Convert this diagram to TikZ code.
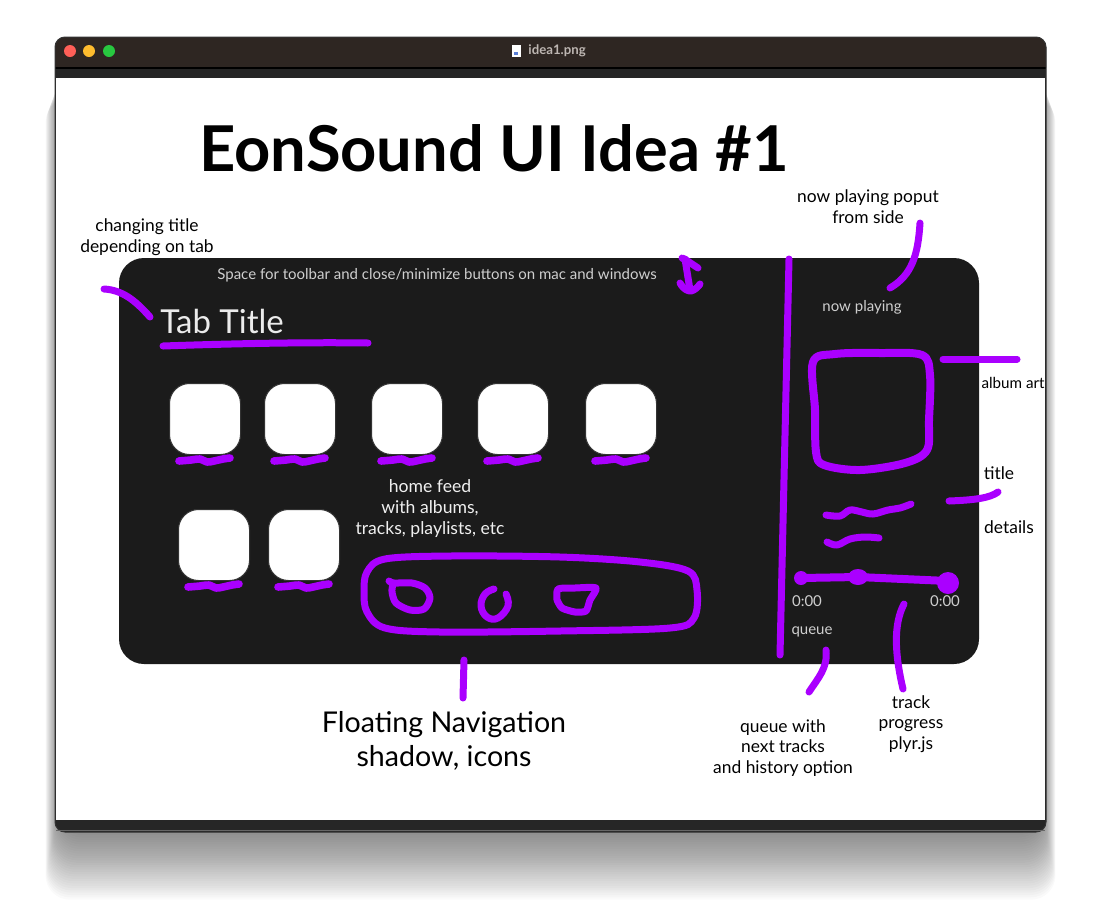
\documentclass[tikz,border=0pt]{standalone}
\usepackage{fontspec}
\setmainfont{Lato}
\usetikzlibrary{calc}
\definecolor{pur}{HTML}{AA00FF}
\definecolor{panelc}{HTML}{1B1B1B}
\definecolor{tbar}{HTML}{2E2622}
\definecolor{stripc}{HTML}{262626}
\definecolor{uigray}{HTML}{CFCFCF}
\definecolor{titlegray}{HTML}{BDB6B2}
\definecolor{tlred}{HTML}{FF5F57}
\definecolor{tlyellow}{HTML}{FEBC2E}
\definecolor{tlgreen}{HTML}{28C840}
\definecolor{fileblue}{HTML}{5B7FD6}
\begin{document}
\begin{tikzpicture}[x=0.5pt,y=-0.5pt,
  pen/.style={draw=pur, line width=3.5pt, line cap=round, line join=round},
  note/.style={font=\fontsize{8.7}{10.4}\selectfont, align=center, text=black, inner sep=0},
  ui/.style={font=\fontsize{7.5}{9}\selectfont, text=uigray, inner sep=0},
  tile/.style={draw=black!80, line width=0.5pt, fill=white, rounded corners=10pt,
    minimum width=35.5pt, minimum height=35.5pt, inner sep=0},
  squig/.pic={\draw[pen, line width=3.8pt] plot[smooth, tension=0.6] coordinates
    {(-26,1) (-14,0) (-5,-1) (2,2) (9,1) (18,-1) (25,-2)};}]
\useasboundingbox (0,0) rectangle (1102,906);
% shadow
\foreach \i in {1,...,32}
  \fill[black, opacity=0.019, rounded corners=12pt]
    (60-\i*0.45,60+\i*1.2) rectangle (1041+\i*0.45,826+\i*2.3);
% window
\fill[stripc, rounded corners=5pt] (55,37) rectangle (1046,832);
\fill[tbar, rounded corners=5pt] (55,37) rectangle (1046,78);
\fill[stripc] (55,68) rectangle (1046,78);
\draw[black, line width=0.6pt] (55,68) -- (1046,68);
\fill[white] (56,78) rectangle (1045,820);
\draw[black!80, line width=0.5pt, rounded corners=5pt] (55,37) rectangle (1046,832);
\fill[black!60] (56,830) -- (1045,830) -- (1045,831) -- (56,831) -- cycle;
% traffic lights
\fill[tlred] (70,51) circle (3pt);
\fill[tlyellow] (89,51) circle (3pt);
\fill[tlgreen] (109,51) circle (3pt);
\node[draw=none, fill=white, minimum width=4.5pt, minimum height=6pt, inner sep=0] (fileicon) at (516,51) {};
\fill[fileblue] ($(fileicon.center)+(-2,1)$) rectangle ($(fileicon.center)+(2,4)$);
\node[anchor=west, text=titlegray, font=\bfseries\fontsize{6.6}{8}\selectfont, inner sep=0] (wtitle) at (528,51) {idea1.png};
% main title
\node[font=\bfseries\fontsize{31.6}{38}\selectfont, inner sep=0] (title) at (494,148) {EonSound UI Idea \#1};
% panel
\fill[panelc, rounded corners=12.5pt] (119,258) rectangle (979,664);
\node[ui, font=\fontsize{7.5}{9}\selectfont] (toolbar) at (437,275) {Space for toolbar and close/minimize buttons on mac and windows};
\node[anchor=base west, inner sep=0, text=white!92!black, font=\fontsize{16.5}{20}\selectfont] (tabtitle) at (160,333) {Tab Title};
% tiles
\foreach \n/\cx/\cy in {t1/205/419, t2/300/419, t3/407/419, t4/513/419, t5/621/419, t6/214/545, t7/304/545}{
  \node[tile] (\n) at (\cx,\cy) {};
  \pic at ($(\n.south)+(0,5)$) {squig};
}
\node[note, text=white!94!black, font=\fontsize{8.8}{10.5}\selectfont] (feed) at (430,509) {home feed\\with albums,\\tracks, playlists, etc};
% floating navigation
\draw[pen] plot[smooth cycle, tension=0.55] coordinates {(367,572) (385,559) (450,556) (560,557) (640,562) (688,571) (697,590) (694,618) (670,628) (560,631) (440,632) (385,628) (367,612) (364,592)};
\coordinate (navbot) at (464,632);
\draw[pen] plot[smooth, tension=0.5] coordinates {(389,581) (394,583) (412,583) (425,588) (430,598) (424,609) (410,610) (396,603) (392,592) (393,584)};
\draw[pen] plot[smooth, tension=0.7] coordinates {(494,589) (485,594) (481,606) (487,617) (498,618) (508,606) (506,594)};
\draw[pen] plot[smooth, tension=0.4] coordinates {(557,600) (558,589) (575,588) (596,588) (590,600) (586,611) (575,612) (562,608) (557,600)};
% now playing side
\coordinate (divtop) at (789,259);
\coordinate (divbot) at (780,655);
\draw[pen] (divtop) -- (divbot);
\node[ui] (nowpl) at (862,307) {now playing};
\draw[pen, line width=4pt] plot[smooth cycle, tension=0.55] coordinates {(813,362) (835,354) (880,353) (922,355) (930,375) (929,420) (927,450) (905,463) (860,470) (824,465) (816,452) (815,410)};
\coordinate (artframe) at (931,358);
\draw[pen] plot[smooth, tension=0.6] coordinates {(826,515) (840,516) (850,510) (862,512) (873,514) (888,510) (900,508) (911,504)};
\draw[pen] plot[smooth, tension=0.6] coordinates {(827,542) (837,545) (850,539) (865,537) (879,538)};
\coordinate (pstart) at (801,578);
\coordinate (pknob) at (858,577);
\coordinate (pend) at (948,581);
\draw[pen, line width=4pt] (pstart) -- (pknob) -- (pend);
\fill[pur] (pstart) circle (3.5pt);
\fill[pur] (pknob) ellipse (5pt and 4pt);
\fill[pur] (948,583) circle (5.5pt);
\node[ui] (tl) at (807,601) {0:00};
\node[ui] (tr) at (945,601) {0:00};
\node[ui] (queue) at (812,632) {queue};
% annotations
\node[note] (chg) at (147,237) {changing title\\depending on tab};
\coordinate (chgA) at (104,289);
\coordinate (chgB) at (150,317);
\draw[pen] (chgA) .. controls (122,290) and (135,300) .. (chgB);
\coordinate (ulA) at (163,346);
\coordinate (ulB) at (368,343);
\draw[pen] (ulA) .. controls (220,344) and (300,342) .. (ulB);
% double arrow
\coordinate (daT) at (685,259);
\coordinate (daB) at (690,290);
\draw[pen] (daT) -- (daB);
\draw[pen] (682,258) -- (686,260) -- (698,268);
\draw[pen] (680,283) .. controls (684,290) and (688,291) .. (691,291) .. controls (695,290) and (698,287) .. (700,284);
\node[note] (npp) at (868,207) {now playing poput\\from side};
\coordinate (nppA) at (920,223);
\coordinate (nppB) at (890,288);
\draw[pen] (nppA) .. controls (918,255) and (912,275) .. (nppB);
\coordinate (artA) at (943,359);
\coordinate (artB) at (1017,359);
\draw[pen] (artA) -- (artB);
\node[note, font=\fontsize{7.6}{9}\selectfont, anchor=east] (art) at (1045,383) {album art};
\node[note] (ttl) at (999,473) {title};
\coordinate (ttlA) at (949,501);
\coordinate (ttlB) at (998,492);
\draw[pen] (ttlA) .. controls (975,500) and (990,498) .. (ttlB);
\node[note] (det) at (1009,527) {details};
\coordinate (qA) at (826,650);
\coordinate (qB) at (809,692);
\draw[pen] (qA) .. controls (828,668) and (818,678) .. (qB);
\node[note] (qnote) at (783,748) {queue with\\next tracks\\and history option};
\coordinate (tpA) at (904,604);
\coordinate (tpB) at (903,689);
\draw[pen] (tpA) .. controls (893,625) and (895,655) .. (tpB);
\node[note] (tpnote) at (911,724) {track\\progress\\plyr.js};
\coordinate (navA) at (464,660);
\coordinate (navB) at (463,698);
\draw[pen] (navA) -- (navB);
\node[note, font=\fontsize{14.3}{17}\selectfont] (navnote) at (444,741) {Floating Navigation\\shadow, icons};
\end{tikzpicture}
\end{document}
